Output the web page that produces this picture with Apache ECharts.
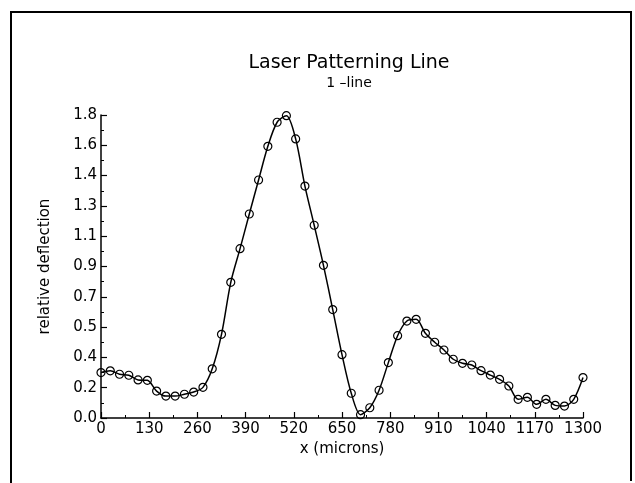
<!DOCTYPE html>
<html>
<head>
<meta charset="utf-8">
<script src="https://cdn.jsdelivr.net/npm/echarts@6/dist/echarts.min.js"></script>
<style>
html,body{margin:0;padding:0;background:#fff;}
#chart{width:635px;height:483px;}
</style>
</head>
<body>
<div id="chart"></div>
<script>
var xValues = [0,25,50,75,100,125,150,175,200,225,250,275,300,325,350,375,400,425,450,475,500,525,550,575,600,625,650,675,700,725,750,775,800,825,850,875,900,925,950,975,1000,1025,1050,1075,1100,1125,1150,1175,1200,1225,1250,1275,1300];
var deflection = [0.27,0.28,0.26,0.254,0.226,0.224,0.16,0.13,0.13,0.141,0.154,0.182,0.292,0.497,0.806,1.006,1.212,1.414,1.614,1.757,1.796,1.658,1.378,1.145,0.907,0.644,0.376,0.147,0.02,0.061,0.165,0.329,0.489,0.576,0.586,0.503,0.45,0.404,0.349,0.325,0.315,0.281,0.255,0.23,0.19,0.111,0.123,0.081,0.111,0.075,0.071,0.111,0.24];
var titleText = 'Laser Patterning Line';
var subtitleText = '1 \u2013line';
var xName = 'x (microns)';
var yName = 'relative deflection';

var data = xValues.map(function(x,i){return [x, deflection[i]];});
var font = 'DejaVu Sans';
var chart = echarts.init(document.getElementById('chart'), null, {renderer:'canvas'});
chart.setOption({
  backgroundColor:'#fff',
  animation:false,
  title:{
    text:titleText,
    subtext:subtitleText,
    left:344, top:49, textAlign:'center',
    itemGap:3,
    textStyle:{fontFamily:font,fontSize:19,fontWeight:'normal',color:'#000'},
    subtextStyle:{fontFamily:font,fontSize:14,color:'#000'}
  },
  grid:{left:101,right:52,top:115,bottom:65},
  xAxis:{
    type:'value',min:0,max:1300,interval:130,
    name:xName,nameLocation:'middle',nameGap:21,
    nameTextStyle:{fontFamily:font,fontSize:15,color:'#000'},
    axisLine:{lineStyle:{color:'#000',width:1.5}},
    axisTick:{inside:true,length:6,lineStyle:{color:'#000',width:1.2}},
    minorTick:{show:true,splitNumber:2,length:3,lineStyle:{color:'#000',width:1}},
    axisLabel:{fontFamily:font,fontSize:15,color:'#000',margin:4,
      formatter:function(v){return String(Math.round(v));}},
    splitLine:{show:false}
  },
  yAxis:{
    type:'value',min:0,max:1.8,interval:0.18,
    name:yName,nameLocation:'middle',nameGap:48,nameRotate:90,
    nameTextStyle:{fontFamily:font,fontSize:15,color:'#000'},
    axisLine:{show:true,lineStyle:{color:'#000',width:1.5}},
    axisTick:{show:true,inside:true,length:6,lineStyle:{color:'#000',width:1.2}},
    minorTick:{show:true,splitNumber:2,length:3,lineStyle:{color:'#000',width:1}},
    axisLabel:{fontFamily:font,fontSize:15,color:'#000',margin:4,
      formatter:function(v){return (Math.round(v*10)/10).toFixed(1);}},
    splitLine:{show:false}
  },
  series:[{
    type:'line',data:data,smooth:0.3,clip:false,
    symbol:'circle',symbolSize:8,
    lineStyle:{color:'#000',width:1.5},
    itemStyle:{color:'rgba(0,0,0,0)',borderColor:'#000',borderWidth:1.2}
  }],
  graphic:[{
    type:'polyline',silent:true,
    shape:{points:[[11,483],[11,12],[631,12],[631,481]]},
    style:{stroke:'#000',lineWidth:2,fill:null}
  }]
});
</script>
</body>
</html>
